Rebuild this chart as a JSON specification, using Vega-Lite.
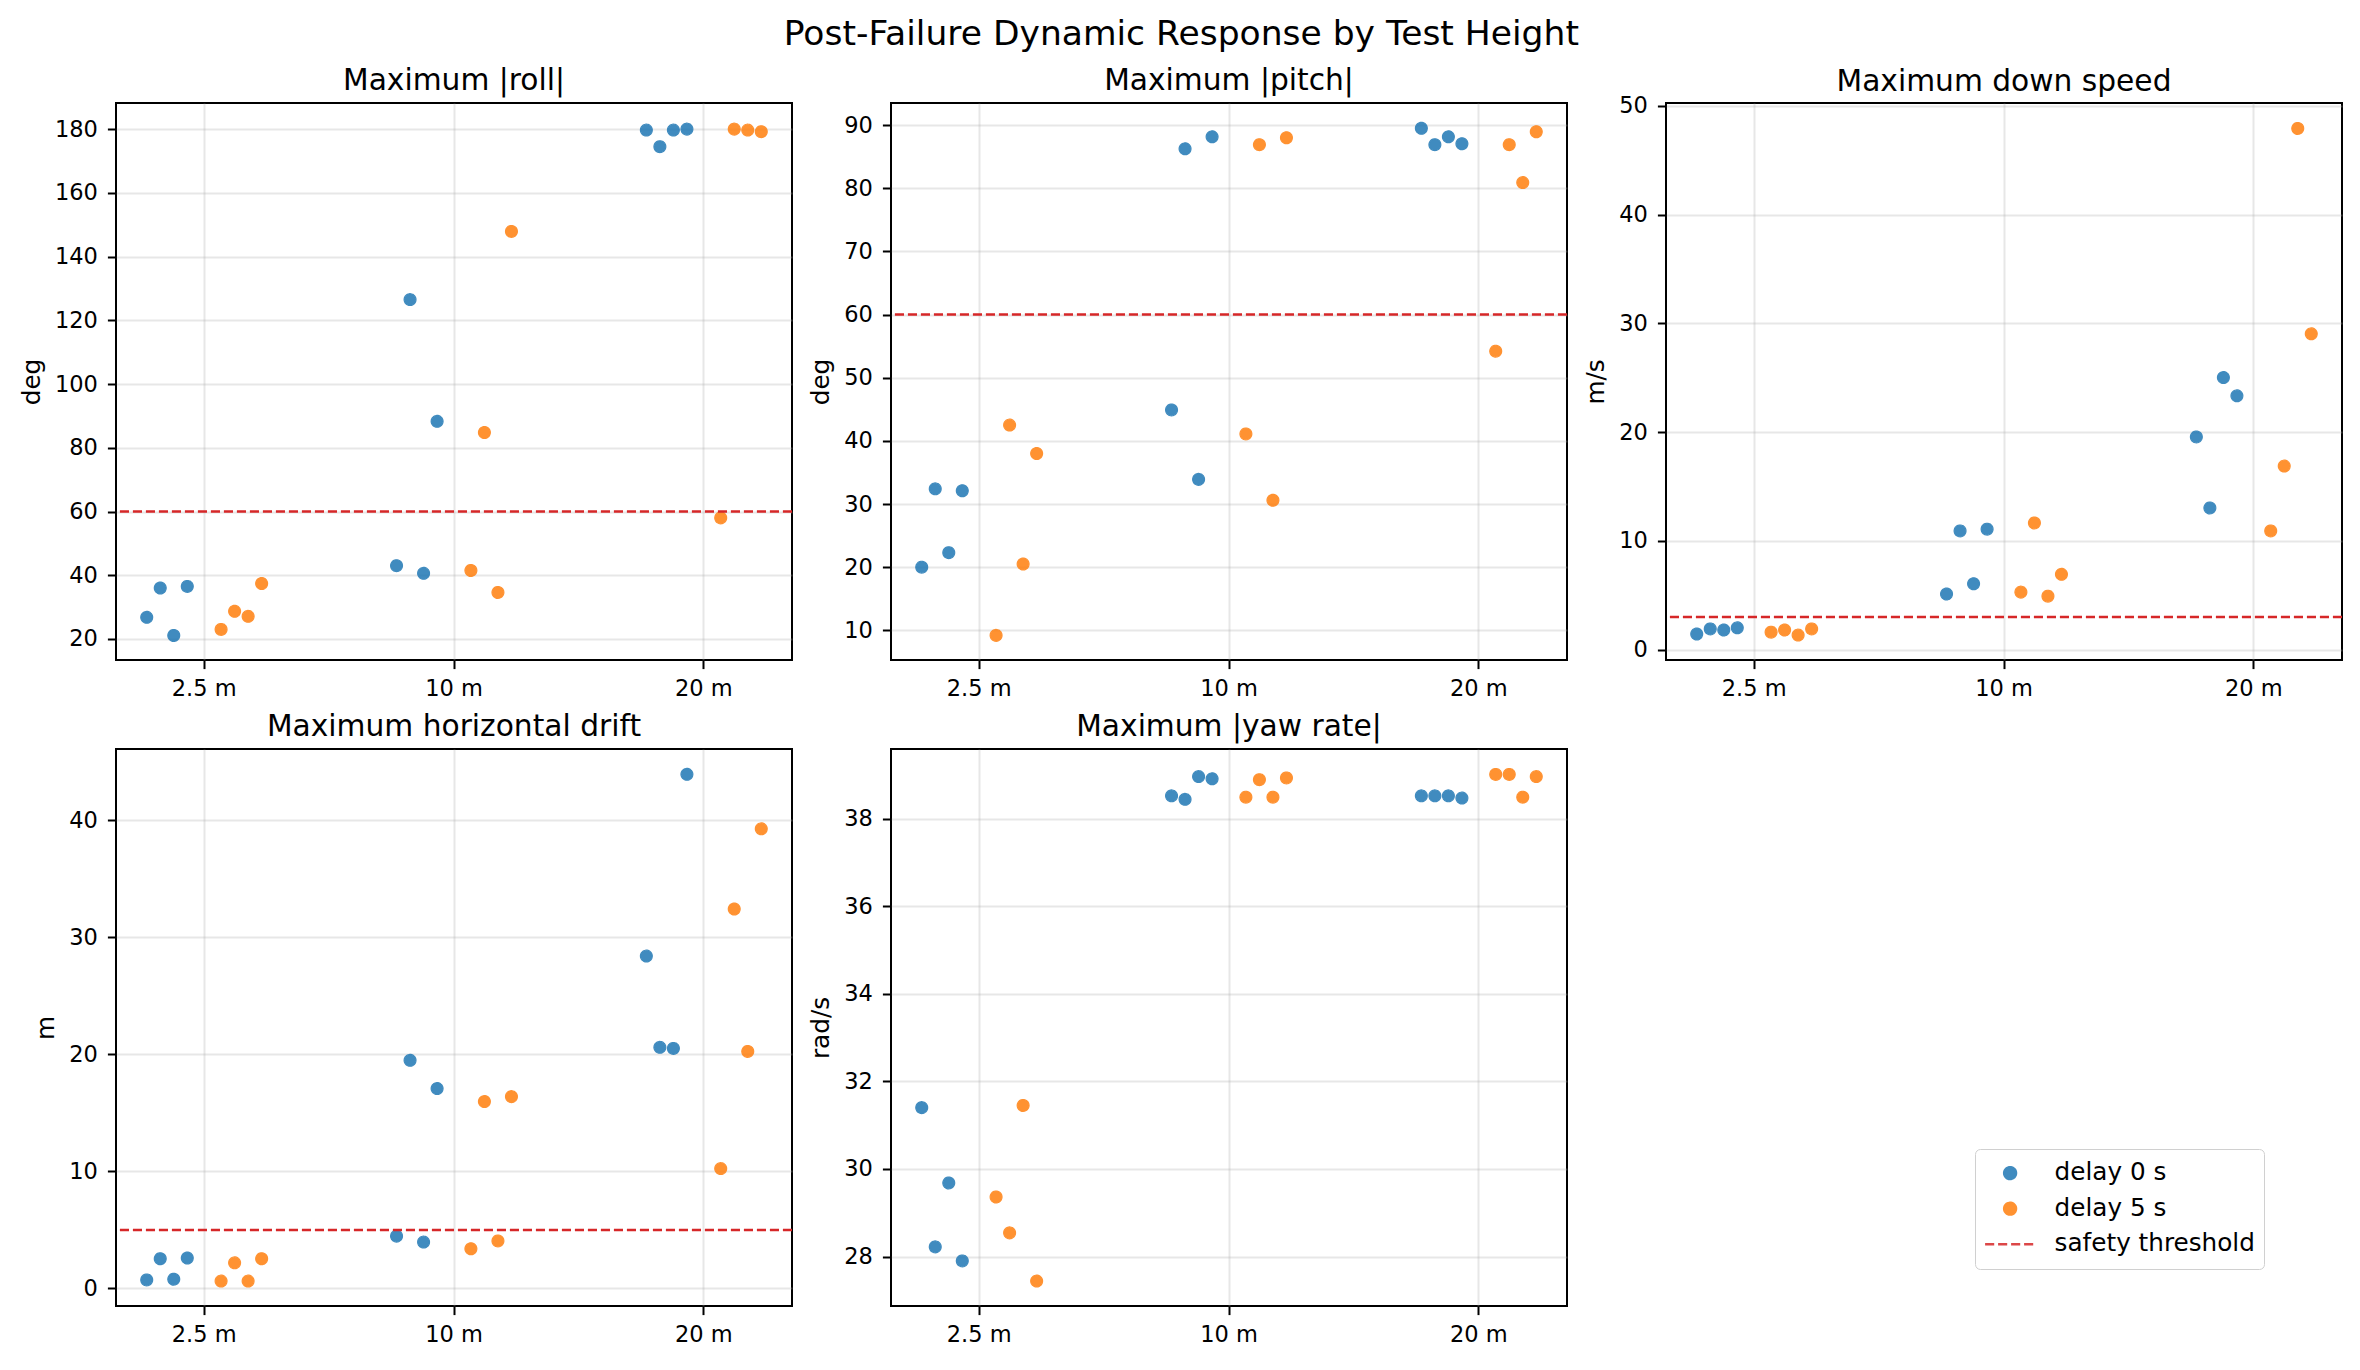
{
  "$schema": "https://vega.github.io/schema/vega-lite/v6.json",
  "background": "white",
  "padding": {"left": 18, "top": 17, "right": 5, "bottom": 5},
  "title": {"text": "Post-Failure Dynamic Response by Test Height", "fontSize": 34.5, "anchor": "middle", "baseline": "alphabetic", "offset": -14.5},
  "columns": 3,
  "spacing": {"row": 89, "column": 99},
  "bounds": "flush",
  "datasets": {
    "runs": [
      {"height": "2.5 m", "delay": "delay 0 s", "trial": "0 s #1", "roll": 26.8, "pitch": 20.0, "down": 1.44, "drift": 0.73, "yaw": 31.40},
      {"height": "2.5 m", "delay": "delay 0 s", "trial": "0 s #2", "roll": 36.0, "pitch": 32.4, "down": 1.91, "drift": 2.54, "yaw": 28.22},
      {"height": "2.5 m", "delay": "delay 0 s", "trial": "0 s #3", "roll": 21.1, "pitch": 22.3, "down": 1.81, "drift": 0.79, "yaw": 29.68},
      {"height": "2.5 m", "delay": "delay 0 s", "trial": "0 s #4", "roll": 36.5, "pitch": 32.1, "down": 2.01, "drift": 2.60, "yaw": 27.90},
      {"height": "2.5 m", "delay": "delay 5 s", "trial": "5 s #1", "roll": 23.0, "pitch": 9.2, "down": 1.61, "drift": 0.63, "yaw": 29.36},
      {"height": "2.5 m", "delay": "delay 5 s", "trial": "5 s #2", "roll": 28.7, "pitch": 42.5, "down": 1.81, "drift": 2.19, "yaw": 28.54},
      {"height": "2.5 m", "delay": "delay 5 s", "trial": "5 s #3", "roll": 27.1, "pitch": 20.5, "down": 1.34, "drift": 0.63, "yaw": 31.45},
      {"height": "2.5 m", "delay": "delay 5 s", "trial": "5 s #4", "roll": 37.4, "pitch": 38.0, "down": 1.91, "drift": 2.54, "yaw": 27.44},
      {"height": "10 m", "delay": "delay 0 s", "trial": "0 s #1", "roll": 43.0, "pitch": 44.9, "down": 5.12, "drift": 4.47, "yaw": 38.52},
      {"height": "10 m", "delay": "delay 0 s", "trial": "0 s #2", "roll": 126.5, "pitch": 86.25, "down": 10.92, "drift": 19.49, "yaw": 38.44},
      {"height": "10 m", "delay": "delay 0 s", "trial": "0 s #3", "roll": 40.6, "pitch": 33.9, "down": 6.06, "drift": 3.96, "yaw": 38.96},
      {"height": "10 m", "delay": "delay 0 s", "trial": "0 s #4", "roll": 88.3, "pitch": 88.15, "down": 11.08, "drift": 17.08, "yaw": 38.91},
      {"height": "10 m", "delay": "delay 5 s", "trial": "5 s #1", "roll": 41.5, "pitch": 41.1, "down": 5.29, "drift": 3.39, "yaw": 38.49},
      {"height": "10 m", "delay": "delay 5 s", "trial": "5 s #2", "roll": 84.8, "pitch": 86.9, "down": 11.65, "drift": 15.97, "yaw": 38.89},
      {"height": "10 m", "delay": "delay 5 s", "trial": "5 s #3", "roll": 34.6, "pitch": 30.6, "down": 4.92, "drift": 4.06, "yaw": 38.49},
      {"height": "10 m", "delay": "delay 5 s", "trial": "5 s #4", "roll": 147.9, "pitch": 88.0, "down": 6.93, "drift": 16.39, "yaw": 38.93},
      {"height": "20 m", "delay": "delay 0 s", "trial": "0 s #1", "roll": 179.7, "pitch": 89.5, "down": 19.56, "drift": 28.40, "yaw": 38.52},
      {"height": "20 m", "delay": "delay 0 s", "trial": "0 s #2", "roll": 174.5, "pitch": 86.9, "down": 13.03, "drift": 20.60, "yaw": 38.52},
      {"height": "20 m", "delay": "delay 0 s", "trial": "0 s #3", "roll": 179.7, "pitch": 88.15, "down": 25.02, "drift": 20.51, "yaw": 38.52},
      {"height": "20 m", "delay": "delay 0 s", "trial": "0 s #4", "roll": 180.0, "pitch": 87.05, "down": 23.34, "drift": 43.93, "yaw": 38.47},
      {"height": "20 m", "delay": "delay 5 s", "trial": "5 s #1", "roll": 58.0, "pitch": 54.2, "down": 10.92, "drift": 10.24, "yaw": 39.01},
      {"height": "20 m", "delay": "delay 5 s", "trial": "5 s #2", "roll": 180.0, "pitch": 86.9, "down": 16.88, "drift": 32.42, "yaw": 39.01},
      {"height": "20 m", "delay": "delay 5 s", "trial": "5 s #3", "roll": 179.7, "pitch": 80.9, "down": 47.92, "drift": 20.25, "yaw": 38.49},
      {"height": "20 m", "delay": "delay 5 s", "trial": "5 s #4", "roll": 179.2, "pitch": 88.95, "down": 29.04, "drift": 39.27, "yaw": 38.96}
    ],
    "thresholds": [
      {"metric": "roll", "threshold": 60},
      {"metric": "pitch", "threshold": 60},
      {"metric": "down", "threshold": 3},
      {"metric": "drift", "threshold": 5}
    ]
  },
  "concat": [
    {
      "title": "Maximum |roll|",
      "width": 676, "height": 557,
      "layer": [
        {
          "data": {"name": "runs"},
          "mark": {"type": "point", "filled": true, "opacity": 0.85, "strokeWidth": 1.2},
          "encoding": {
            "x": {"field": "height", "type": "nominal", "sort": ["2.5 m", "10 m", "20 m"], "scale": {"type": "band", "paddingInner": 0.54, "paddingOuter": 0.123}, "axis": {"title": null}},
            "xOffset": {"field": "trial", "type": "nominal", "scale": {"type": "point", "padding": 0, "domain": ["0 s #1", "p1", "0 s #2", "p2", "0 s #3", "p3", "0 s #4", "p4", "p5", "p6", "p7", "5 s #1", "p8", "5 s #2", "p9", "5 s #3", "p10", "5 s #4"]}},
            "y": {"field": "roll", "type": "quantitative", "scale": {"domain": [13.4, 188.2], "nice": false, "zero": false}, "axis": {"title": "deg", "values": [20, 40, 60, 80, 100, 120, 140, 160, 180]}},
            "color": {"field": "delay", "type": "nominal", "scale": {"domain": ["delay 0 s", "delay 5 s", "safety threshold"], "range": ["#1f77b4", "#ff7f0e", "#d62728"]},
              "legend": {
                "title": null, "orient": "none", "legendX": 1859, "legendY": 1046,
                "labelFontSize": 24.7, "labelFont": "DejaVu Sans", "labelColor": "black", "labelLimit": 400,
                "padding": 8.6, "fillColor": "white", "strokeColor": "#d0d0d0", "cornerRadius": 5,
                "clipHeight": 31, "rowPadding": 4.6, "labelOffset": 18,
                "symbolStrokeWidth": 2.5, "symbolOpacity": 0.85
              }},
            "stroke": {"field": "delay", "type": "nominal", "scale": {"domain": ["delay 0 s", "delay 5 s", "safety threshold"], "range": ["#1f77b4", "#ff7f0e", "#d62728"]}, "legend": {"title": null}},
            "shape": {"field": "delay", "type": "nominal", "scale": {"domain": ["delay 0 s", "delay 5 s", "safety threshold"], "range": ["circle", "circle", "stroke"]}, "legend": {"title": null}},
            "size": {"field": "delay", "type": "nominal", "scale": {"type": "ordinal", "domain": ["delay 0 s", "delay 5 s", "safety threshold"], "range": [140, 140, 2500]}, "legend": {"title": null}},
            "strokeDash": {"field": "delay", "type": "nominal", "scale": {"domain": ["delay 0 s", "delay 5 s", "safety threshold"], "range": [[1, 0], [1, 0], [9.1, 3.9]]}, "legend": {"title": null}}
          }
        },
        {
          "data": {"name": "thresholds"},
          "transform": [{"filter": "datum.metric === 'roll'"}],
          "mark": {"type": "rule", "color": "#d62728", "strokeDash": [9.1, 3.9], "strokeWidth": 2.5},
          "encoding": {"y": {"field": "threshold", "type": "quantitative"}}
        }
      ]
    },
    {
      "title": "Maximum |pitch|",
      "width": 676, "height": 557,
      "layer": [
        {
          "data": {"name": "runs"},
          "mark": {"type": "point", "filled": true, "opacity": 0.85, "strokeWidth": 1.2},
          "encoding": {
            "x": {"field": "height", "type": "nominal", "sort": ["2.5 m", "10 m", "20 m"], "scale": {"type": "band", "paddingInner": 0.54, "paddingOuter": 0.123}, "axis": {"title": null}},
            "xOffset": {"field": "trial", "type": "nominal", "scale": {"type": "point", "padding": 0, "domain": ["0 s #1", "p1", "0 s #2", "p2", "0 s #3", "p3", "0 s #4", "p4", "p5", "p6", "p7", "5 s #1", "p8", "5 s #2", "p9", "5 s #3", "p10", "5 s #4"]}},
            "y": {"field": "pitch", "type": "quantitative", "scale": {"domain": [5.3, 93.5], "nice": false, "zero": false}, "axis": {"title": "deg", "values": [10, 20, 30, 40, 50, 60, 70, 80, 90]}},
            "color": {"field": "delay", "type": "nominal", "scale": {"domain": ["delay 0 s", "delay 5 s", "safety threshold"], "range": ["#1f77b4", "#ff7f0e", "#d62728"]}},
            "stroke": {"field": "delay", "type": "nominal", "scale": {"domain": ["delay 0 s", "delay 5 s", "safety threshold"], "range": ["#1f77b4", "#ff7f0e", "#d62728"]}},
            "shape": {"field": "delay", "type": "nominal", "scale": {"domain": ["delay 0 s", "delay 5 s", "safety threshold"], "range": ["circle", "circle", "stroke"]}},
            "size": {"field": "delay", "type": "nominal", "scale": {"type": "ordinal", "domain": ["delay 0 s", "delay 5 s", "safety threshold"], "range": [140, 140, 2500]}},
            "strokeDash": {"field": "delay", "type": "nominal", "scale": {"domain": ["delay 0 s", "delay 5 s", "safety threshold"], "range": [[1, 0], [1, 0], [9.1, 3.9]]}}
          }
        },
        {
          "data": {"name": "thresholds"},
          "transform": [{"filter": "datum.metric === 'pitch'"}],
          "mark": {"type": "rule", "color": "#d62728", "strokeDash": [9.1, 3.9], "strokeWidth": 2.5},
          "encoding": {"y": {"field": "threshold", "type": "quantitative"}}
        }
      ]
    },
    {
      "title": {"text": "Maximum down speed", "offset": -3},
      "width": 676, "height": 557,
      "layer": [
        {
          "data": {"name": "runs"},
          "mark": {"type": "point", "filled": true, "opacity": 0.85, "strokeWidth": 1.2},
          "encoding": {
            "x": {"field": "height", "type": "nominal", "sort": ["2.5 m", "10 m", "20 m"], "scale": {"type": "band", "paddingInner": 0.54, "paddingOuter": 0.123}, "axis": {"title": null}},
            "xOffset": {"field": "trial", "type": "nominal", "scale": {"type": "point", "padding": 0, "domain": ["0 s #1", "p1", "0 s #2", "p2", "0 s #3", "p3", "0 s #4", "p4", "p5", "p6", "p7", "5 s #1", "p8", "5 s #2", "p9", "5 s #3", "p10", "5 s #4"]}},
            "y": {"field": "down", "type": "quantitative", "scale": {"domain": [-0.95, 50.26], "nice": false, "zero": false}, "axis": {"title": "m/s", "values": [0, 10, 20, 30, 40, 50]}},
            "color": {"field": "delay", "type": "nominal", "scale": {"domain": ["delay 0 s", "delay 5 s", "safety threshold"], "range": ["#1f77b4", "#ff7f0e", "#d62728"]}},
            "stroke": {"field": "delay", "type": "nominal", "scale": {"domain": ["delay 0 s", "delay 5 s", "safety threshold"], "range": ["#1f77b4", "#ff7f0e", "#d62728"]}},
            "shape": {"field": "delay", "type": "nominal", "scale": {"domain": ["delay 0 s", "delay 5 s", "safety threshold"], "range": ["circle", "circle", "stroke"]}},
            "size": {"field": "delay", "type": "nominal", "scale": {"type": "ordinal", "domain": ["delay 0 s", "delay 5 s", "safety threshold"], "range": [140, 140, 2500]}},
            "strokeDash": {"field": "delay", "type": "nominal", "scale": {"domain": ["delay 0 s", "delay 5 s", "safety threshold"], "range": [[1, 0], [1, 0], [9.1, 3.9]]}}
          }
        },
        {
          "data": {"name": "thresholds"},
          "transform": [{"filter": "datum.metric === 'down'"}],
          "mark": {"type": "rule", "color": "#d62728", "strokeDash": [9.1, 3.9], "strokeWidth": 2.5},
          "encoding": {"y": {"field": "threshold", "type": "quantitative"}}
        }
      ]
    },
    {
      "title": "Maximum horizontal drift",
      "width": 676, "height": 557,
      "layer": [
        {
          "data": {"name": "runs"},
          "mark": {"type": "point", "filled": true, "opacity": 0.85, "strokeWidth": 1.2},
          "encoding": {
            "x": {"field": "height", "type": "nominal", "sort": ["2.5 m", "10 m", "20 m"], "scale": {"type": "band", "paddingInner": 0.54, "paddingOuter": 0.123}, "axis": {"title": null}},
            "xOffset": {"field": "trial", "type": "nominal", "scale": {"type": "point", "padding": 0, "domain": ["0 s #1", "p1", "0 s #2", "p2", "0 s #3", "p3", "0 s #4", "p4", "p5", "p6", "p7", "5 s #1", "p8", "5 s #2", "p9", "5 s #3", "p10", "5 s #4"]}},
            "y": {"field": "drift", "type": "quantitative", "scale": {"domain": [-1.5, 46.09], "nice": false, "zero": false}, "axis": {"title": "m", "values": [0, 10, 20, 30, 40]}},
            "color": {"field": "delay", "type": "nominal", "scale": {"domain": ["delay 0 s", "delay 5 s", "safety threshold"], "range": ["#1f77b4", "#ff7f0e", "#d62728"]}},
            "stroke": {"field": "delay", "type": "nominal", "scale": {"domain": ["delay 0 s", "delay 5 s", "safety threshold"], "range": ["#1f77b4", "#ff7f0e", "#d62728"]}},
            "shape": {"field": "delay", "type": "nominal", "scale": {"domain": ["delay 0 s", "delay 5 s", "safety threshold"], "range": ["circle", "circle", "stroke"]}},
            "size": {"field": "delay", "type": "nominal", "scale": {"type": "ordinal", "domain": ["delay 0 s", "delay 5 s", "safety threshold"], "range": [140, 140, 2500]}},
            "strokeDash": {"field": "delay", "type": "nominal", "scale": {"domain": ["delay 0 s", "delay 5 s", "safety threshold"], "range": [[1, 0], [1, 0], [9.1, 3.9]]}}
          }
        },
        {
          "data": {"name": "thresholds"},
          "transform": [{"filter": "datum.metric === 'drift'"}],
          "mark": {"type": "rule", "color": "#d62728", "strokeDash": [9.1, 3.9], "strokeWidth": 2.5},
          "encoding": {"y": {"field": "threshold", "type": "quantitative"}}
        }
      ]
    },
    {
      "title": "Maximum |yaw rate|",
      "width": 676, "height": 557,
      "layer": [
        {
          "data": {"name": "runs"},
          "mark": {"type": "point", "filled": true, "opacity": 0.85, "strokeWidth": 1.2},
          "encoding": {
            "x": {"field": "height", "type": "nominal", "sort": ["2.5 m", "10 m", "20 m"], "scale": {"type": "band", "paddingInner": 0.54, "paddingOuter": 0.123}, "axis": {"title": null}},
            "xOffset": {"field": "trial", "type": "nominal", "scale": {"type": "point", "padding": 0, "domain": ["0 s #1", "p1", "0 s #2", "p2", "0 s #3", "p3", "0 s #4", "p4", "p5", "p6", "p7", "5 s #1", "p8", "5 s #2", "p9", "5 s #3", "p10", "5 s #4"]}},
            "y": {"field": "yaw", "type": "quantitative", "scale": {"domain": [26.87, 39.59], "nice": false, "zero": false}, "axis": {"title": "rad/s", "values": [28, 30, 32, 34, 36, 38]}},
            "color": {"field": "delay", "type": "nominal", "scale": {"domain": ["delay 0 s", "delay 5 s", "safety threshold"], "range": ["#1f77b4", "#ff7f0e", "#d62728"]}},
            "stroke": {"field": "delay", "type": "nominal", "scale": {"domain": ["delay 0 s", "delay 5 s", "safety threshold"], "range": ["#1f77b4", "#ff7f0e", "#d62728"]}},
            "shape": {"field": "delay", "type": "nominal", "scale": {"domain": ["delay 0 s", "delay 5 s", "safety threshold"], "range": ["circle", "circle", "stroke"]}},
            "size": {"field": "delay", "type": "nominal", "scale": {"type": "ordinal", "domain": ["delay 0 s", "delay 5 s", "safety threshold"], "range": [140, 140, 2500]}},
            "strokeDash": {"field": "delay", "type": "nominal", "scale": {"domain": ["delay 0 s", "delay 5 s", "safety threshold"], "range": [[1, 0], [1, 0], [9.1, 3.9]]}}
          }
        }
      ]
    }
  ],
  "config": {
    "font": "DejaVu Sans",
    "view": {"stroke": "black", "strokeWidth": 2},
    "axis": {
      "domain": false,
      "labelFont": "DejaVu Sans", "labelFontSize": 22.5, "labelColor": "black",
      "tickColor": "black", "tickWidth": 2, "tickSize": 8.6,
      "titleFont": "DejaVu Sans", "titleFontSize": 24.7, "titleFontWeight": "normal", "titleColor": "black",
      "grid": true, "gridColor": "#b0b0b0", "gridOpacity": 0.3, "gridWidth": 2
    },
    "axisX": {"labelAngle": 0, "tickBand": "center", "labelPadding": 8.6},
    "axisY": {"labelPadding": 10, "titlePadding": 10},
    "legend": {"title": null},
    "title": {"font": "DejaVu Sans", "fontSize": 29.7, "fontWeight": "normal", "color": "black", "baseline": "alphabetic", "offset": 6}
  }
}
